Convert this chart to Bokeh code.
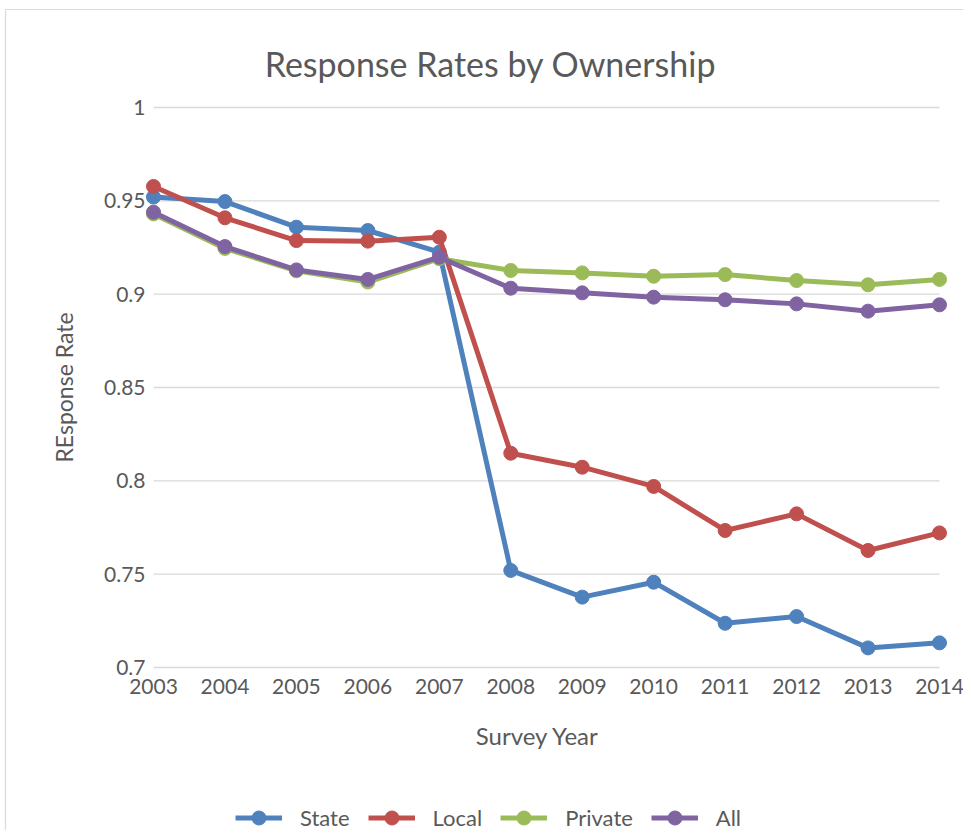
from bokeh.plotting import figure
from bokeh.models import Range1d, Legend, LegendItem, Label
from bokeh.embed import file_html
from bokeh.resources import INLINE
from bokeh.core.properties import value
import math

years = [2003, 2004, 2005, 2006, 2007, 2008, 2009, 2010, 2011, 2012, 2013, 2014]
state = [0.952, 0.9496, 0.9359, 0.9341, 0.9225, 0.752, 0.7377, 0.7457, 0.7237, 0.7273, 0.7105, 0.7132]
local = [0.9577, 0.9409, 0.9287, 0.9284, 0.9305, 0.8148, 0.8073, 0.797, 0.7734, 0.7823, 0.7627, 0.7721]
private = [0.943, 0.9245, 0.9125, 0.9065, 0.919, 0.9127, 0.9114, 0.9096, 0.9105, 0.9073, 0.905, 0.9079]
all_ = [0.9439, 0.9255, 0.913, 0.9079, 0.9198, 0.9032, 0.9007, 0.8984, 0.897, 0.8948, 0.8909, 0.8943]
y_ticks = [0.7, 0.75, 0.8, 0.85, 0.9, 0.95, 1.0]
y_tick_labels = ["0.7", "0.75", "0.8", "0.85", "0.9", "0.95", "1"]
x_tick_labels = [str(y) for y in years]
series_names = ["State", "Local", "Private", "All"]
colors = ["#4F81BD", "#C0504D", "#9BBB59", "#8064A2"]
title_text = "Response Rates by Ownership"
x_label = "Survey Year"
y_label = "REsponse Rate"

FONT = "Lato"
TXT = "#595959"
GRID = "#d9d9d9"

W, H = 963, 830
# pixel layout of the plotting area: first year at px 153, last at 939; 1.0 at py 107, 0.7 at py 667
X0_PX, X1_PX = 153, 939
PX_PER_YEAR = (X1_PX - X0_PX) / (years[-1] - years[0])
PX_PER_UNIT = (667 - 107) / (y_ticks[-1] - y_ticks[0])


def XD(px):
    return years[0] + (px - X0_PX) / PX_PER_YEAR


def YD(py):
    return y_ticks[0] + (667 - py) / PX_PER_UNIT


p = figure(width=W, height=H, output_backend="svg", toolbar_location=None,
           x_range=Range1d(XD(0), XD(W)), y_range=Range1d(YD(H), YD(0)),
           x_axis_location=None, y_axis_location=None,
           min_border=0)
p.outline_line_color = None
p.grid.visible = False

# chart-area border (left and top edges)
p.segment(x0=[XD(5), XD(5)], y0=[YD(9), YD(9)], x1=[XD(5), XD(W)], y1=[YD(H), YD(9)],
          line_color=GRID, line_width=1.2)

# horizontal gridlines between first and last year
p.segment(x0=[years[0]] * len(y_ticks), x1=[years[-1]] * len(y_ticks), y0=y_ticks, y1=y_ticks,
          line_color=GRID, line_width=1.3)

# tick labels
p.text(x=[years[0]] * len(y_ticks), y=y_ticks, text=y_tick_labels, x_offset=-8,
       text_align="right", text_baseline="middle", text_font=value(FONT),
       text_font_size="21px", text_color=TXT)
p.text(x=years, y=[y_ticks[0]] * len(years), text=x_tick_labels, y_offset=19,
       text_align="center", text_baseline="middle", text_font=value(FONT),
       text_font_size="21px", text_color=TXT)

items = []
for name, vals, c in zip(series_names, [state, local, private, all_], colors):
    r1 = p.line(years, vals, line_color=c, line_width=5)
    r2 = p.scatter(years, vals, marker="circle", size=14, fill_color=c, line_color=c)
    items.append(LegendItem(label=name, renderers=[r1, r2]))

legend = Legend(items=items, orientation="horizontal", location=(235, -5),
                padding=0, margin=0, spacing=18, glyph_width=47, glyph_height=35,
                label_standoff=18, border_line_color=None, background_fill_alpha=0,
                label_text_font=FONT, label_text_font_size="22px", label_text_color=TXT)
p.add_layout(legend, "center")

p.add_layout(Label(x=XD(490), y=YD(63), text=title_text, text_align="center",
                   text_baseline="middle", text_font=FONT, text_font_size="34px", text_color=TXT))
p.add_layout(Label(x=XD(537), y=YD(735), text=x_label, text_align="center",
                   text_baseline="middle", text_font=FONT, text_font_size="24px", text_color=TXT))
p.add_layout(Label(x=XD(63), y=YD(387), text=y_label, text_align="center", angle=math.pi / 2,
                   text_baseline="middle", text_font=FONT, text_font_size="23px", text_color=TXT))

open("out.html", "w").write(file_html(p, INLINE))
